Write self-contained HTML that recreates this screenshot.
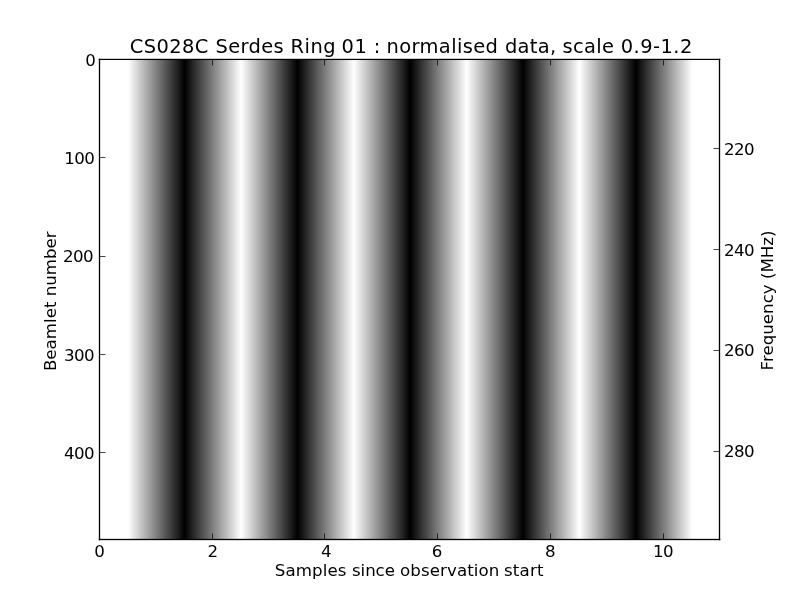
<!DOCTYPE html>
<html lang="en">
<head>
<meta charset="utf-8">
<title>CS028C Serdes Ring 01 : normalised data, scale 0.9-1.2</title>
<style>
html,body{margin:0;padding:0;background:#fff;}
body{width:800px;height:600px;overflow:hidden;}
svg{display:block;}
text{font-family:"DejaVu Sans","Liberation Sans",sans-serif;fill:#000;white-space:pre;}
.t{font-size:16.667px;}
.n{letter-spacing:-0.6px;}
.ttl{font-size:19.444px;}
.tk{fill:#000;opacity:0.72;}
</style>
</head>
<body>
<svg width="800" height="600" viewBox="0 0 800 600">
<rect x="0" y="0" width="800" height="600" fill="#fff"/>
<!-- image: 11 samples alternating white/black, bilinear interpolation, one rect per run of equal columns -->
<g shape-rendering="crispEdges">
<rect x="100" y="60" width="28" height="480" fill="#ffffff"/>
<rect x="128" y="60" width="1" height="480" fill="#fefefe"/>
<rect x="129" y="60" width="1" height="480" fill="#f9f9f9"/>
<rect x="130" y="60" width="1" height="480" fill="#f5f5f5"/>
<rect x="131" y="60" width="1" height="480" fill="#f0f0f0"/>
<rect x="132" y="60" width="1" height="480" fill="#ececec"/>
<rect x="133" y="60" width="1" height="480" fill="#e7e7e7"/>
<rect x="134" y="60" width="1" height="480" fill="#e3e3e3"/>
<rect x="135" y="60" width="1" height="480" fill="#dedede"/>
<rect x="136" y="60" width="1" height="480" fill="#dadada"/>
<rect x="137" y="60" width="1" height="480" fill="#d5d5d5"/>
<rect x="138" y="60" width="1" height="480" fill="#d0d0d0"/>
<rect x="139" y="60" width="1" height="480" fill="#cccccc"/>
<rect x="140" y="60" width="1" height="480" fill="#c7c7c7"/>
<rect x="141" y="60" width="1" height="480" fill="#c3c3c3"/>
<rect x="142" y="60" width="1" height="480" fill="#bebebe"/>
<rect x="143" y="60" width="1" height="480" fill="#bababa"/>
<rect x="144" y="60" width="1" height="480" fill="#b5b5b5"/>
<rect x="145" y="60" width="1" height="480" fill="#b1b1b1"/>
<rect x="146" y="60" width="1" height="480" fill="#acacac"/>
<rect x="147" y="60" width="1" height="480" fill="#a8a8a8"/>
<rect x="148" y="60" width="1" height="480" fill="#a3a3a3"/>
<rect x="149" y="60" width="1" height="480" fill="#9f9f9f"/>
<rect x="150" y="60" width="1" height="480" fill="#9a9a9a"/>
<rect x="151" y="60" width="1" height="480" fill="#969696"/>
<rect x="152" y="60" width="1" height="480" fill="#919191"/>
<rect x="153" y="60" width="1" height="480" fill="#8d8d8d"/>
<rect x="154" y="60" width="1" height="480" fill="#888888"/>
<rect x="155" y="60" width="1" height="480" fill="#848484"/>
<rect x="156" y="60" width="1" height="480" fill="#7f7f7f"/>
<rect x="157" y="60" width="1" height="480" fill="#7b7b7b"/>
<rect x="158" y="60" width="1" height="480" fill="#767676"/>
<rect x="159" y="60" width="1" height="480" fill="#727272"/>
<rect x="160" y="60" width="1" height="480" fill="#6d6d6d"/>
<rect x="161" y="60" width="1" height="480" fill="#686868"/>
<rect x="162" y="60" width="1" height="480" fill="#646464"/>
<rect x="163" y="60" width="1" height="480" fill="#5f5f5f"/>
<rect x="164" y="60" width="1" height="480" fill="#5b5b5b"/>
<rect x="165" y="60" width="1" height="480" fill="#565656"/>
<rect x="166" y="60" width="1" height="480" fill="#525252"/>
<rect x="167" y="60" width="1" height="480" fill="#4d4d4d"/>
<rect x="168" y="60" width="1" height="480" fill="#494949"/>
<rect x="169" y="60" width="1" height="480" fill="#444444"/>
<rect x="170" y="60" width="1" height="480" fill="#404040"/>
<rect x="171" y="60" width="1" height="480" fill="#3b3b3b"/>
<rect x="172" y="60" width="1" height="480" fill="#373737"/>
<rect x="173" y="60" width="1" height="480" fill="#323232"/>
<rect x="174" y="60" width="1" height="480" fill="#2e2e2e"/>
<rect x="175" y="60" width="1" height="480" fill="#292929"/>
<rect x="176" y="60" width="1" height="480" fill="#252525"/>
<rect x="177" y="60" width="1" height="480" fill="#202020"/>
<rect x="178" y="60" width="1" height="480" fill="#1c1c1c"/>
<rect x="179" y="60" width="1" height="480" fill="#171717"/>
<rect x="180" y="60" width="1" height="480" fill="#131313"/>
<rect x="181" y="60" width="1" height="480" fill="#0e0e0e"/>
<rect x="182" y="60" width="1" height="480" fill="#0a0a0a"/>
<rect x="183" y="60" width="1" height="480" fill="#050505"/>
<rect x="184" y="60" width="1" height="480" fill="#010101"/>
<rect x="185" y="60" width="1" height="480" fill="#040404"/>
<rect x="186" y="60" width="1" height="480" fill="#090909"/>
<rect x="187" y="60" width="1" height="480" fill="#0d0d0d"/>
<rect x="188" y="60" width="1" height="480" fill="#121212"/>
<rect x="189" y="60" width="1" height="480" fill="#161616"/>
<rect x="190" y="60" width="1" height="480" fill="#1b1b1b"/>
<rect x="191" y="60" width="1" height="480" fill="#1f1f1f"/>
<rect x="192" y="60" width="1" height="480" fill="#242424"/>
<rect x="193" y="60" width="1" height="480" fill="#282828"/>
<rect x="194" y="60" width="1" height="480" fill="#2d2d2d"/>
<rect x="195" y="60" width="1" height="480" fill="#313131"/>
<rect x="196" y="60" width="1" height="480" fill="#363636"/>
<rect x="197" y="60" width="1" height="480" fill="#3a3a3a"/>
<rect x="198" y="60" width="1" height="480" fill="#3f3f3f"/>
<rect x="199" y="60" width="1" height="480" fill="#434343"/>
<rect x="200" y="60" width="1" height="480" fill="#484848"/>
<rect x="201" y="60" width="1" height="480" fill="#4c4c4c"/>
<rect x="202" y="60" width="1" height="480" fill="#515151"/>
<rect x="203" y="60" width="1" height="480" fill="#555555"/>
<rect x="204" y="60" width="1" height="480" fill="#5a5a5a"/>
<rect x="205" y="60" width="1" height="480" fill="#5e5e5e"/>
<rect x="206" y="60" width="1" height="480" fill="#636363"/>
<rect x="207" y="60" width="1" height="480" fill="#676767"/>
<rect x="208" y="60" width="1" height="480" fill="#6c6c6c"/>
<rect x="209" y="60" width="1" height="480" fill="#707070"/>
<rect x="210" y="60" width="1" height="480" fill="#757575"/>
<rect x="211" y="60" width="1" height="480" fill="#7a7a7a"/>
<rect x="212" y="60" width="1" height="480" fill="#7e7e7e"/>
<rect x="213" y="60" width="1" height="480" fill="#838383"/>
<rect x="214" y="60" width="1" height="480" fill="#878787"/>
<rect x="215" y="60" width="1" height="480" fill="#8c8c8c"/>
<rect x="216" y="60" width="1" height="480" fill="#909090"/>
<rect x="217" y="60" width="1" height="480" fill="#959595"/>
<rect x="218" y="60" width="1" height="480" fill="#999999"/>
<rect x="219" y="60" width="1" height="480" fill="#9e9e9e"/>
<rect x="220" y="60" width="1" height="480" fill="#a2a2a2"/>
<rect x="221" y="60" width="1" height="480" fill="#a7a7a7"/>
<rect x="222" y="60" width="1" height="480" fill="#ababab"/>
<rect x="223" y="60" width="1" height="480" fill="#b0b0b0"/>
<rect x="224" y="60" width="1" height="480" fill="#b4b4b4"/>
<rect x="225" y="60" width="1" height="480" fill="#b9b9b9"/>
<rect x="226" y="60" width="1" height="480" fill="#bdbdbd"/>
<rect x="227" y="60" width="1" height="480" fill="#c2c2c2"/>
<rect x="228" y="60" width="1" height="480" fill="#c6c6c6"/>
<rect x="229" y="60" width="1" height="480" fill="#cbcbcb"/>
<rect x="230" y="60" width="1" height="480" fill="#cfcfcf"/>
<rect x="231" y="60" width="1" height="480" fill="#d4d4d4"/>
<rect x="232" y="60" width="1" height="480" fill="#d8d8d8"/>
<rect x="233" y="60" width="1" height="480" fill="#dddddd"/>
<rect x="234" y="60" width="1" height="480" fill="#e2e2e2"/>
<rect x="235" y="60" width="1" height="480" fill="#e6e6e6"/>
<rect x="236" y="60" width="1" height="480" fill="#ebebeb"/>
<rect x="237" y="60" width="1" height="480" fill="#efefef"/>
<rect x="238" y="60" width="1" height="480" fill="#f4f4f4"/>
<rect x="239" y="60" width="1" height="480" fill="#f8f8f8"/>
<rect x="240" y="60" width="2" height="480" fill="#fdfdfd"/>
<rect x="242" y="60" width="1" height="480" fill="#f8f8f8"/>
<rect x="243" y="60" width="1" height="480" fill="#f4f4f4"/>
<rect x="244" y="60" width="1" height="480" fill="#efefef"/>
<rect x="245" y="60" width="1" height="480" fill="#ebebeb"/>
<rect x="246" y="60" width="1" height="480" fill="#e6e6e6"/>
<rect x="247" y="60" width="1" height="480" fill="#e2e2e2"/>
<rect x="248" y="60" width="1" height="480" fill="#dddddd"/>
<rect x="249" y="60" width="1" height="480" fill="#d9d9d9"/>
<rect x="250" y="60" width="1" height="480" fill="#d4d4d4"/>
<rect x="251" y="60" width="1" height="480" fill="#d0d0d0"/>
<rect x="252" y="60" width="1" height="480" fill="#cbcbcb"/>
<rect x="253" y="60" width="1" height="480" fill="#c7c7c7"/>
<rect x="254" y="60" width="1" height="480" fill="#c2c2c2"/>
<rect x="255" y="60" width="1" height="480" fill="#bebebe"/>
<rect x="256" y="60" width="1" height="480" fill="#b9b9b9"/>
<rect x="257" y="60" width="1" height="480" fill="#b5b5b5"/>
<rect x="258" y="60" width="1" height="480" fill="#b0b0b0"/>
<rect x="259" y="60" width="1" height="480" fill="#ababab"/>
<rect x="260" y="60" width="1" height="480" fill="#a7a7a7"/>
<rect x="261" y="60" width="1" height="480" fill="#a2a2a2"/>
<rect x="262" y="60" width="1" height="480" fill="#9e9e9e"/>
<rect x="263" y="60" width="1" height="480" fill="#999999"/>
<rect x="264" y="60" width="1" height="480" fill="#959595"/>
<rect x="265" y="60" width="1" height="480" fill="#909090"/>
<rect x="266" y="60" width="1" height="480" fill="#8c8c8c"/>
<rect x="267" y="60" width="1" height="480" fill="#878787"/>
<rect x="268" y="60" width="1" height="480" fill="#838383"/>
<rect x="269" y="60" width="1" height="480" fill="#7e7e7e"/>
<rect x="270" y="60" width="1" height="480" fill="#7a7a7a"/>
<rect x="271" y="60" width="1" height="480" fill="#757575"/>
<rect x="272" y="60" width="1" height="480" fill="#717171"/>
<rect x="273" y="60" width="1" height="480" fill="#6c6c6c"/>
<rect x="274" y="60" width="1" height="480" fill="#686868"/>
<rect x="275" y="60" width="1" height="480" fill="#636363"/>
<rect x="276" y="60" width="1" height="480" fill="#5f5f5f"/>
<rect x="277" y="60" width="1" height="480" fill="#5a5a5a"/>
<rect x="278" y="60" width="1" height="480" fill="#565656"/>
<rect x="279" y="60" width="1" height="480" fill="#515151"/>
<rect x="280" y="60" width="1" height="480" fill="#4d4d4d"/>
<rect x="281" y="60" width="1" height="480" fill="#484848"/>
<rect x="282" y="60" width="1" height="480" fill="#434343"/>
<rect x="283" y="60" width="1" height="480" fill="#3f3f3f"/>
<rect x="284" y="60" width="1" height="480" fill="#3a3a3a"/>
<rect x="285" y="60" width="1" height="480" fill="#363636"/>
<rect x="286" y="60" width="1" height="480" fill="#313131"/>
<rect x="287" y="60" width="1" height="480" fill="#2d2d2d"/>
<rect x="288" y="60" width="1" height="480" fill="#282828"/>
<rect x="289" y="60" width="1" height="480" fill="#242424"/>
<rect x="290" y="60" width="1" height="480" fill="#1f1f1f"/>
<rect x="291" y="60" width="1" height="480" fill="#1b1b1b"/>
<rect x="292" y="60" width="1" height="480" fill="#161616"/>
<rect x="293" y="60" width="1" height="480" fill="#121212"/>
<rect x="294" y="60" width="1" height="480" fill="#0d0d0d"/>
<rect x="295" y="60" width="1" height="480" fill="#090909"/>
<rect x="296" y="60" width="1" height="480" fill="#040404"/>
<rect x="297" y="60" width="1" height="480" fill="#000000"/>
<rect x="298" y="60" width="1" height="480" fill="#050505"/>
<rect x="299" y="60" width="1" height="480" fill="#090909"/>
<rect x="300" y="60" width="1" height="480" fill="#0e0e0e"/>
<rect x="301" y="60" width="1" height="480" fill="#121212"/>
<rect x="302" y="60" width="1" height="480" fill="#171717"/>
<rect x="303" y="60" width="1" height="480" fill="#1b1b1b"/>
<rect x="304" y="60" width="1" height="480" fill="#202020"/>
<rect x="305" y="60" width="1" height="480" fill="#242424"/>
<rect x="306" y="60" width="1" height="480" fill="#292929"/>
<rect x="307" y="60" width="1" height="480" fill="#2e2e2e"/>
<rect x="308" y="60" width="1" height="480" fill="#323232"/>
<rect x="309" y="60" width="1" height="480" fill="#373737"/>
<rect x="310" y="60" width="1" height="480" fill="#3b3b3b"/>
<rect x="311" y="60" width="1" height="480" fill="#404040"/>
<rect x="312" y="60" width="1" height="480" fill="#444444"/>
<rect x="313" y="60" width="1" height="480" fill="#494949"/>
<rect x="314" y="60" width="1" height="480" fill="#4d4d4d"/>
<rect x="315" y="60" width="1" height="480" fill="#525252"/>
<rect x="316" y="60" width="1" height="480" fill="#565656"/>
<rect x="317" y="60" width="1" height="480" fill="#5b5b5b"/>
<rect x="318" y="60" width="1" height="480" fill="#5f5f5f"/>
<rect x="319" y="60" width="1" height="480" fill="#646464"/>
<rect x="320" y="60" width="1" height="480" fill="#686868"/>
<rect x="321" y="60" width="1" height="480" fill="#6d6d6d"/>
<rect x="322" y="60" width="1" height="480" fill="#717171"/>
<rect x="323" y="60" width="1" height="480" fill="#767676"/>
<rect x="324" y="60" width="1" height="480" fill="#7a7a7a"/>
<rect x="325" y="60" width="1" height="480" fill="#7f7f7f"/>
<rect x="326" y="60" width="1" height="480" fill="#838383"/>
<rect x="327" y="60" width="1" height="480" fill="#888888"/>
<rect x="328" y="60" width="1" height="480" fill="#8c8c8c"/>
<rect x="329" y="60" width="1" height="480" fill="#919191"/>
<rect x="330" y="60" width="1" height="480" fill="#959595"/>
<rect x="331" y="60" width="1" height="480" fill="#9a9a9a"/>
<rect x="332" y="60" width="1" height="480" fill="#9f9f9f"/>
<rect x="333" y="60" width="1" height="480" fill="#a3a3a3"/>
<rect x="334" y="60" width="1" height="480" fill="#a8a8a8"/>
<rect x="335" y="60" width="1" height="480" fill="#acacac"/>
<rect x="336" y="60" width="1" height="480" fill="#b1b1b1"/>
<rect x="337" y="60" width="1" height="480" fill="#b5b5b5"/>
<rect x="338" y="60" width="1" height="480" fill="#bababa"/>
<rect x="339" y="60" width="1" height="480" fill="#bebebe"/>
<rect x="340" y="60" width="1" height="480" fill="#c3c3c3"/>
<rect x="341" y="60" width="1" height="480" fill="#c7c7c7"/>
<rect x="342" y="60" width="1" height="480" fill="#cccccc"/>
<rect x="343" y="60" width="1" height="480" fill="#d0d0d0"/>
<rect x="344" y="60" width="1" height="480" fill="#d5d5d5"/>
<rect x="345" y="60" width="1" height="480" fill="#d9d9d9"/>
<rect x="346" y="60" width="1" height="480" fill="#dedede"/>
<rect x="347" y="60" width="1" height="480" fill="#e2e2e2"/>
<rect x="348" y="60" width="1" height="480" fill="#e7e7e7"/>
<rect x="349" y="60" width="1" height="480" fill="#ebebeb"/>
<rect x="350" y="60" width="1" height="480" fill="#f0f0f0"/>
<rect x="351" y="60" width="1" height="480" fill="#f4f4f4"/>
<rect x="352" y="60" width="1" height="480" fill="#f9f9f9"/>
<rect x="353" y="60" width="1" height="480" fill="#fdfdfd"/>
<rect x="354" y="60" width="1" height="480" fill="#fcfcfc"/>
<rect x="355" y="60" width="1" height="480" fill="#f8f8f8"/>
<rect x="356" y="60" width="1" height="480" fill="#f3f3f3"/>
<rect x="357" y="60" width="1" height="480" fill="#eeeeee"/>
<rect x="358" y="60" width="1" height="480" fill="#eaeaea"/>
<rect x="359" y="60" width="1" height="480" fill="#e5e5e5"/>
<rect x="360" y="60" width="1" height="480" fill="#e1e1e1"/>
<rect x="361" y="60" width="1" height="480" fill="#dcdcdc"/>
<rect x="362" y="60" width="1" height="480" fill="#d8d8d8"/>
<rect x="363" y="60" width="1" height="480" fill="#d3d3d3"/>
<rect x="364" y="60" width="1" height="480" fill="#cfcfcf"/>
<rect x="365" y="60" width="1" height="480" fill="#cacaca"/>
<rect x="366" y="60" width="1" height="480" fill="#c6c6c6"/>
<rect x="367" y="60" width="1" height="480" fill="#c1c1c1"/>
<rect x="368" y="60" width="1" height="480" fill="#bdbdbd"/>
<rect x="369" y="60" width="1" height="480" fill="#b8b8b8"/>
<rect x="370" y="60" width="1" height="480" fill="#b4b4b4"/>
<rect x="371" y="60" width="1" height="480" fill="#afafaf"/>
<rect x="372" y="60" width="1" height="480" fill="#ababab"/>
<rect x="373" y="60" width="1" height="480" fill="#a6a6a6"/>
<rect x="374" y="60" width="1" height="480" fill="#a2a2a2"/>
<rect x="375" y="60" width="1" height="480" fill="#9d9d9d"/>
<rect x="376" y="60" width="1" height="480" fill="#999999"/>
<rect x="377" y="60" width="1" height="480" fill="#949494"/>
<rect x="378" y="60" width="1" height="480" fill="#909090"/>
<rect x="379" y="60" width="1" height="480" fill="#8b8b8b"/>
<rect x="380" y="60" width="1" height="480" fill="#868686"/>
<rect x="381" y="60" width="1" height="480" fill="#828282"/>
<rect x="382" y="60" width="1" height="480" fill="#7d7d7d"/>
<rect x="383" y="60" width="1" height="480" fill="#797979"/>
<rect x="384" y="60" width="1" height="480" fill="#747474"/>
<rect x="385" y="60" width="1" height="480" fill="#707070"/>
<rect x="386" y="60" width="1" height="480" fill="#6b6b6b"/>
<rect x="387" y="60" width="1" height="480" fill="#676767"/>
<rect x="388" y="60" width="1" height="480" fill="#626262"/>
<rect x="389" y="60" width="1" height="480" fill="#5e5e5e"/>
<rect x="390" y="60" width="1" height="480" fill="#595959"/>
<rect x="391" y="60" width="1" height="480" fill="#555555"/>
<rect x="392" y="60" width="1" height="480" fill="#505050"/>
<rect x="393" y="60" width="1" height="480" fill="#4c4c4c"/>
<rect x="394" y="60" width="1" height="480" fill="#474747"/>
<rect x="395" y="60" width="1" height="480" fill="#434343"/>
<rect x="396" y="60" width="1" height="480" fill="#3e3e3e"/>
<rect x="397" y="60" width="1" height="480" fill="#3a3a3a"/>
<rect x="398" y="60" width="1" height="480" fill="#353535"/>
<rect x="399" y="60" width="1" height="480" fill="#313131"/>
<rect x="400" y="60" width="1" height="480" fill="#2c2c2c"/>
<rect x="401" y="60" width="1" height="480" fill="#282828"/>
<rect x="402" y="60" width="1" height="480" fill="#232323"/>
<rect x="403" y="60" width="1" height="480" fill="#1f1f1f"/>
<rect x="404" y="60" width="1" height="480" fill="#1a1a1a"/>
<rect x="405" y="60" width="1" height="480" fill="#151515"/>
<rect x="406" y="60" width="1" height="480" fill="#111111"/>
<rect x="407" y="60" width="1" height="480" fill="#0c0c0c"/>
<rect x="408" y="60" width="1" height="480" fill="#080808"/>
<rect x="409" y="60" width="1" height="480" fill="#030303"/>
<rect x="410" y="60" width="1" height="480" fill="#010101"/>
<rect x="411" y="60" width="1" height="480" fill="#060606"/>
<rect x="412" y="60" width="1" height="480" fill="#0a0a0a"/>
<rect x="413" y="60" width="1" height="480" fill="#0f0f0f"/>
<rect x="414" y="60" width="1" height="480" fill="#131313"/>
<rect x="415" y="60" width="1" height="480" fill="#181818"/>
<rect x="416" y="60" width="1" height="480" fill="#1c1c1c"/>
<rect x="417" y="60" width="1" height="480" fill="#212121"/>
<rect x="418" y="60" width="1" height="480" fill="#252525"/>
<rect x="419" y="60" width="1" height="480" fill="#2a2a2a"/>
<rect x="420" y="60" width="1" height="480" fill="#2e2e2e"/>
<rect x="421" y="60" width="1" height="480" fill="#333333"/>
<rect x="422" y="60" width="1" height="480" fill="#373737"/>
<rect x="423" y="60" width="1" height="480" fill="#3c3c3c"/>
<rect x="424" y="60" width="1" height="480" fill="#404040"/>
<rect x="425" y="60" width="1" height="480" fill="#454545"/>
<rect x="426" y="60" width="1" height="480" fill="#494949"/>
<rect x="427" y="60" width="1" height="480" fill="#4e4e4e"/>
<rect x="428" y="60" width="1" height="480" fill="#535353"/>
<rect x="429" y="60" width="1" height="480" fill="#575757"/>
<rect x="430" y="60" width="1" height="480" fill="#5c5c5c"/>
<rect x="431" y="60" width="1" height="480" fill="#606060"/>
<rect x="432" y="60" width="1" height="480" fill="#656565"/>
<rect x="433" y="60" width="1" height="480" fill="#696969"/>
<rect x="434" y="60" width="1" height="480" fill="#6e6e6e"/>
<rect x="435" y="60" width="1" height="480" fill="#727272"/>
<rect x="436" y="60" width="1" height="480" fill="#777777"/>
<rect x="437" y="60" width="1" height="480" fill="#7b7b7b"/>
<rect x="438" y="60" width="1" height="480" fill="#808080"/>
<rect x="439" y="60" width="1" height="480" fill="#848484"/>
<rect x="440" y="60" width="1" height="480" fill="#898989"/>
<rect x="441" y="60" width="1" height="480" fill="#8d8d8d"/>
<rect x="442" y="60" width="1" height="480" fill="#929292"/>
<rect x="443" y="60" width="1" height="480" fill="#969696"/>
<rect x="444" y="60" width="1" height="480" fill="#9b9b9b"/>
<rect x="445" y="60" width="1" height="480" fill="#9f9f9f"/>
<rect x="446" y="60" width="1" height="480" fill="#a4a4a4"/>
<rect x="447" y="60" width="1" height="480" fill="#a8a8a8"/>
<rect x="448" y="60" width="1" height="480" fill="#adadad"/>
<rect x="449" y="60" width="1" height="480" fill="#b1b1b1"/>
<rect x="450" y="60" width="1" height="480" fill="#b6b6b6"/>
<rect x="451" y="60" width="1" height="480" fill="#bababa"/>
<rect x="452" y="60" width="1" height="480" fill="#bfbfbf"/>
<rect x="453" y="60" width="1" height="480" fill="#c4c4c4"/>
<rect x="454" y="60" width="1" height="480" fill="#c8c8c8"/>
<rect x="455" y="60" width="1" height="480" fill="#cdcdcd"/>
<rect x="456" y="60" width="1" height="480" fill="#d1d1d1"/>
<rect x="457" y="60" width="1" height="480" fill="#d6d6d6"/>
<rect x="458" y="60" width="1" height="480" fill="#dadada"/>
<rect x="459" y="60" width="1" height="480" fill="#dfdfdf"/>
<rect x="460" y="60" width="1" height="480" fill="#e3e3e3"/>
<rect x="461" y="60" width="1" height="480" fill="#e8e8e8"/>
<rect x="462" y="60" width="1" height="480" fill="#ececec"/>
<rect x="463" y="60" width="1" height="480" fill="#f1f1f1"/>
<rect x="464" y="60" width="1" height="480" fill="#f5f5f5"/>
<rect x="465" y="60" width="1" height="480" fill="#fafafa"/>
<rect x="466" y="60" width="1" height="480" fill="#fefefe"/>
<rect x="467" y="60" width="1" height="480" fill="#fbfbfb"/>
<rect x="468" y="60" width="1" height="480" fill="#f7f7f7"/>
<rect x="469" y="60" width="1" height="480" fill="#f2f2f2"/>
<rect x="470" y="60" width="1" height="480" fill="#eeeeee"/>
<rect x="471" y="60" width="1" height="480" fill="#e9e9e9"/>
<rect x="472" y="60" width="1" height="480" fill="#e5e5e5"/>
<rect x="473" y="60" width="1" height="480" fill="#e0e0e0"/>
<rect x="474" y="60" width="1" height="480" fill="#dcdcdc"/>
<rect x="475" y="60" width="1" height="480" fill="#d7d7d7"/>
<rect x="476" y="60" width="1" height="480" fill="#d3d3d3"/>
<rect x="477" y="60" width="1" height="480" fill="#cecece"/>
<rect x="478" y="60" width="1" height="480" fill="#c9c9c9"/>
<rect x="479" y="60" width="1" height="480" fill="#c5c5c5"/>
<rect x="480" y="60" width="1" height="480" fill="#c0c0c0"/>
<rect x="481" y="60" width="1" height="480" fill="#bcbcbc"/>
<rect x="482" y="60" width="1" height="480" fill="#b7b7b7"/>
<rect x="483" y="60" width="1" height="480" fill="#b3b3b3"/>
<rect x="484" y="60" width="1" height="480" fill="#aeaeae"/>
<rect x="485" y="60" width="1" height="480" fill="#aaaaaa"/>
<rect x="486" y="60" width="1" height="480" fill="#a5a5a5"/>
<rect x="487" y="60" width="1" height="480" fill="#a1a1a1"/>
<rect x="488" y="60" width="1" height="480" fill="#9c9c9c"/>
<rect x="489" y="60" width="1" height="480" fill="#989898"/>
<rect x="490" y="60" width="1" height="480" fill="#939393"/>
<rect x="491" y="60" width="1" height="480" fill="#8f8f8f"/>
<rect x="492" y="60" width="1" height="480" fill="#8a8a8a"/>
<rect x="493" y="60" width="1" height="480" fill="#868686"/>
<rect x="494" y="60" width="1" height="480" fill="#818181"/>
<rect x="495" y="60" width="1" height="480" fill="#7d7d7d"/>
<rect x="496" y="60" width="1" height="480" fill="#787878"/>
<rect x="497" y="60" width="1" height="480" fill="#747474"/>
<rect x="498" y="60" width="1" height="480" fill="#6f6f6f"/>
<rect x="499" y="60" width="1" height="480" fill="#6b6b6b"/>
<rect x="500" y="60" width="1" height="480" fill="#666666"/>
<rect x="501" y="60" width="1" height="480" fill="#616161"/>
<rect x="502" y="60" width="1" height="480" fill="#5d5d5d"/>
<rect x="503" y="60" width="1" height="480" fill="#585858"/>
<rect x="504" y="60" width="1" height="480" fill="#545454"/>
<rect x="505" y="60" width="1" height="480" fill="#4f4f4f"/>
<rect x="506" y="60" width="1" height="480" fill="#4b4b4b"/>
<rect x="507" y="60" width="1" height="480" fill="#464646"/>
<rect x="508" y="60" width="1" height="480" fill="#424242"/>
<rect x="509" y="60" width="1" height="480" fill="#3d3d3d"/>
<rect x="510" y="60" width="1" height="480" fill="#393939"/>
<rect x="511" y="60" width="1" height="480" fill="#343434"/>
<rect x="512" y="60" width="1" height="480" fill="#303030"/>
<rect x="513" y="60" width="1" height="480" fill="#2b2b2b"/>
<rect x="514" y="60" width="1" height="480" fill="#272727"/>
<rect x="515" y="60" width="1" height="480" fill="#222222"/>
<rect x="516" y="60" width="1" height="480" fill="#1e1e1e"/>
<rect x="517" y="60" width="1" height="480" fill="#191919"/>
<rect x="518" y="60" width="1" height="480" fill="#151515"/>
<rect x="519" y="60" width="1" height="480" fill="#101010"/>
<rect x="520" y="60" width="1" height="480" fill="#0c0c0c"/>
<rect x="521" y="60" width="1" height="480" fill="#070707"/>
<rect x="522" y="60" width="1" height="480" fill="#030303"/>
<rect x="523" y="60" width="1" height="480" fill="#020202"/>
<rect x="524" y="60" width="1" height="480" fill="#060606"/>
<rect x="525" y="60" width="1" height="480" fill="#0b0b0b"/>
<rect x="526" y="60" width="1" height="480" fill="#101010"/>
<rect x="527" y="60" width="1" height="480" fill="#141414"/>
<rect x="528" y="60" width="1" height="480" fill="#191919"/>
<rect x="529" y="60" width="1" height="480" fill="#1d1d1d"/>
<rect x="530" y="60" width="1" height="480" fill="#222222"/>
<rect x="531" y="60" width="1" height="480" fill="#262626"/>
<rect x="532" y="60" width="1" height="480" fill="#2b2b2b"/>
<rect x="533" y="60" width="1" height="480" fill="#2f2f2f"/>
<rect x="534" y="60" width="1" height="480" fill="#343434"/>
<rect x="535" y="60" width="1" height="480" fill="#383838"/>
<rect x="536" y="60" width="1" height="480" fill="#3d3d3d"/>
<rect x="537" y="60" width="1" height="480" fill="#414141"/>
<rect x="538" y="60" width="1" height="480" fill="#464646"/>
<rect x="539" y="60" width="1" height="480" fill="#4a4a4a"/>
<rect x="540" y="60" width="1" height="480" fill="#4f4f4f"/>
<rect x="541" y="60" width="1" height="480" fill="#535353"/>
<rect x="542" y="60" width="1" height="480" fill="#585858"/>
<rect x="543" y="60" width="1" height="480" fill="#5c5c5c"/>
<rect x="544" y="60" width="1" height="480" fill="#616161"/>
<rect x="545" y="60" width="1" height="480" fill="#656565"/>
<rect x="546" y="60" width="1" height="480" fill="#6a6a6a"/>
<rect x="547" y="60" width="1" height="480" fill="#6e6e6e"/>
<rect x="548" y="60" width="1" height="480" fill="#737373"/>
<rect x="549" y="60" width="1" height="480" fill="#777777"/>
<rect x="550" y="60" width="1" height="480" fill="#7c7c7c"/>
<rect x="551" y="60" width="1" height="480" fill="#818181"/>
<rect x="552" y="60" width="1" height="480" fill="#858585"/>
<rect x="553" y="60" width="1" height="480" fill="#8a8a8a"/>
<rect x="554" y="60" width="1" height="480" fill="#8e8e8e"/>
<rect x="555" y="60" width="1" height="480" fill="#939393"/>
<rect x="556" y="60" width="1" height="480" fill="#979797"/>
<rect x="557" y="60" width="1" height="480" fill="#9c9c9c"/>
<rect x="558" y="60" width="1" height="480" fill="#a0a0a0"/>
<rect x="559" y="60" width="1" height="480" fill="#a5a5a5"/>
<rect x="560" y="60" width="1" height="480" fill="#a9a9a9"/>
<rect x="561" y="60" width="1" height="480" fill="#aeaeae"/>
<rect x="562" y="60" width="1" height="480" fill="#b2b2b2"/>
<rect x="563" y="60" width="1" height="480" fill="#b7b7b7"/>
<rect x="564" y="60" width="1" height="480" fill="#bbbbbb"/>
<rect x="565" y="60" width="1" height="480" fill="#c0c0c0"/>
<rect x="566" y="60" width="1" height="480" fill="#c4c4c4"/>
<rect x="567" y="60" width="1" height="480" fill="#c9c9c9"/>
<rect x="568" y="60" width="1" height="480" fill="#cdcdcd"/>
<rect x="569" y="60" width="1" height="480" fill="#d2d2d2"/>
<rect x="570" y="60" width="1" height="480" fill="#d6d6d6"/>
<rect x="571" y="60" width="1" height="480" fill="#dbdbdb"/>
<rect x="572" y="60" width="1" height="480" fill="#dfdfdf"/>
<rect x="573" y="60" width="1" height="480" fill="#e4e4e4"/>
<rect x="574" y="60" width="1" height="480" fill="#e9e9e9"/>
<rect x="575" y="60" width="1" height="480" fill="#ededed"/>
<rect x="576" y="60" width="1" height="480" fill="#f2f2f2"/>
<rect x="577" y="60" width="1" height="480" fill="#f6f6f6"/>
<rect x="578" y="60" width="1" height="480" fill="#fbfbfb"/>
<rect x="579" y="60" width="1" height="480" fill="#ffffff"/>
<rect x="580" y="60" width="1" height="480" fill="#fafafa"/>
<rect x="581" y="60" width="1" height="480" fill="#f6f6f6"/>
<rect x="582" y="60" width="1" height="480" fill="#f1f1f1"/>
<rect x="583" y="60" width="1" height="480" fill="#ededed"/>
<rect x="584" y="60" width="1" height="480" fill="#e8e8e8"/>
<rect x="585" y="60" width="1" height="480" fill="#e4e4e4"/>
<rect x="586" y="60" width="1" height="480" fill="#dfdfdf"/>
<rect x="587" y="60" width="1" height="480" fill="#dbdbdb"/>
<rect x="588" y="60" width="1" height="480" fill="#d6d6d6"/>
<rect x="589" y="60" width="1" height="480" fill="#d2d2d2"/>
<rect x="590" y="60" width="1" height="480" fill="#cdcdcd"/>
<rect x="591" y="60" width="1" height="480" fill="#c9c9c9"/>
<rect x="592" y="60" width="1" height="480" fill="#c4c4c4"/>
<rect x="593" y="60" width="1" height="480" fill="#c0c0c0"/>
<rect x="594" y="60" width="1" height="480" fill="#bbbbbb"/>
<rect x="595" y="60" width="1" height="480" fill="#b7b7b7"/>
<rect x="596" y="60" width="1" height="480" fill="#b2b2b2"/>
<rect x="597" y="60" width="1" height="480" fill="#aeaeae"/>
<rect x="598" y="60" width="1" height="480" fill="#a9a9a9"/>
<rect x="599" y="60" width="1" height="480" fill="#a4a4a4"/>
<rect x="600" y="60" width="1" height="480" fill="#a0a0a0"/>
<rect x="601" y="60" width="1" height="480" fill="#9b9b9b"/>
<rect x="602" y="60" width="1" height="480" fill="#979797"/>
<rect x="603" y="60" width="1" height="480" fill="#929292"/>
<rect x="604" y="60" width="1" height="480" fill="#8e8e8e"/>
<rect x="605" y="60" width="1" height="480" fill="#898989"/>
<rect x="606" y="60" width="1" height="480" fill="#858585"/>
<rect x="607" y="60" width="1" height="480" fill="#808080"/>
<rect x="608" y="60" width="1" height="480" fill="#7c7c7c"/>
<rect x="609" y="60" width="1" height="480" fill="#777777"/>
<rect x="610" y="60" width="1" height="480" fill="#737373"/>
<rect x="611" y="60" width="1" height="480" fill="#6e6e6e"/>
<rect x="612" y="60" width="1" height="480" fill="#6a6a6a"/>
<rect x="613" y="60" width="1" height="480" fill="#656565"/>
<rect x="614" y="60" width="1" height="480" fill="#616161"/>
<rect x="615" y="60" width="1" height="480" fill="#5c5c5c"/>
<rect x="616" y="60" width="1" height="480" fill="#585858"/>
<rect x="617" y="60" width="1" height="480" fill="#535353"/>
<rect x="618" y="60" width="1" height="480" fill="#4f4f4f"/>
<rect x="619" y="60" width="1" height="480" fill="#4a4a4a"/>
<rect x="620" y="60" width="1" height="480" fill="#464646"/>
<rect x="621" y="60" width="1" height="480" fill="#414141"/>
<rect x="622" y="60" width="1" height="480" fill="#3d3d3d"/>
<rect x="623" y="60" width="1" height="480" fill="#383838"/>
<rect x="624" y="60" width="1" height="480" fill="#333333"/>
<rect x="625" y="60" width="1" height="480" fill="#2f2f2f"/>
<rect x="626" y="60" width="1" height="480" fill="#2a2a2a"/>
<rect x="627" y="60" width="1" height="480" fill="#262626"/>
<rect x="628" y="60" width="1" height="480" fill="#212121"/>
<rect x="629" y="60" width="1" height="480" fill="#1d1d1d"/>
<rect x="630" y="60" width="1" height="480" fill="#181818"/>
<rect x="631" y="60" width="1" height="480" fill="#141414"/>
<rect x="632" y="60" width="1" height="480" fill="#0f0f0f"/>
<rect x="633" y="60" width="1" height="480" fill="#0b0b0b"/>
<rect x="634" y="60" width="1" height="480" fill="#060606"/>
<rect x="635" y="60" width="1" height="480" fill="#020202"/>
<rect x="636" y="60" width="1" height="480" fill="#030303"/>
<rect x="637" y="60" width="1" height="480" fill="#070707"/>
<rect x="638" y="60" width="1" height="480" fill="#0c0c0c"/>
<rect x="639" y="60" width="1" height="480" fill="#101010"/>
<rect x="640" y="60" width="1" height="480" fill="#151515"/>
<rect x="641" y="60" width="1" height="480" fill="#191919"/>
<rect x="642" y="60" width="1" height="480" fill="#1e1e1e"/>
<rect x="643" y="60" width="1" height="480" fill="#222222"/>
<rect x="644" y="60" width="1" height="480" fill="#272727"/>
<rect x="645" y="60" width="1" height="480" fill="#2b2b2b"/>
<rect x="646" y="60" width="1" height="480" fill="#303030"/>
<rect x="647" y="60" width="1" height="480" fill="#353535"/>
<rect x="648" y="60" width="1" height="480" fill="#393939"/>
<rect x="649" y="60" width="1" height="480" fill="#3e3e3e"/>
<rect x="650" y="60" width="1" height="480" fill="#424242"/>
<rect x="651" y="60" width="1" height="480" fill="#474747"/>
<rect x="652" y="60" width="1" height="480" fill="#4b4b4b"/>
<rect x="653" y="60" width="1" height="480" fill="#505050"/>
<rect x="654" y="60" width="1" height="480" fill="#545454"/>
<rect x="655" y="60" width="1" height="480" fill="#595959"/>
<rect x="656" y="60" width="1" height="480" fill="#5d5d5d"/>
<rect x="657" y="60" width="1" height="480" fill="#626262"/>
<rect x="658" y="60" width="1" height="480" fill="#666666"/>
<rect x="659" y="60" width="1" height="480" fill="#6b6b6b"/>
<rect x="660" y="60" width="1" height="480" fill="#6f6f6f"/>
<rect x="661" y="60" width="1" height="480" fill="#747474"/>
<rect x="662" y="60" width="1" height="480" fill="#787878"/>
<rect x="663" y="60" width="1" height="480" fill="#7d7d7d"/>
<rect x="664" y="60" width="1" height="480" fill="#818181"/>
<rect x="665" y="60" width="1" height="480" fill="#868686"/>
<rect x="666" y="60" width="1" height="480" fill="#8a8a8a"/>
<rect x="667" y="60" width="1" height="480" fill="#8f8f8f"/>
<rect x="668" y="60" width="1" height="480" fill="#939393"/>
<rect x="669" y="60" width="1" height="480" fill="#989898"/>
<rect x="670" y="60" width="1" height="480" fill="#9c9c9c"/>
<rect x="671" y="60" width="1" height="480" fill="#a1a1a1"/>
<rect x="672" y="60" width="1" height="480" fill="#a6a6a6"/>
<rect x="673" y="60" width="1" height="480" fill="#aaaaaa"/>
<rect x="674" y="60" width="1" height="480" fill="#afafaf"/>
<rect x="675" y="60" width="1" height="480" fill="#b3b3b3"/>
<rect x="676" y="60" width="1" height="480" fill="#b8b8b8"/>
<rect x="677" y="60" width="1" height="480" fill="#bcbcbc"/>
<rect x="678" y="60" width="1" height="480" fill="#c1c1c1"/>
<rect x="679" y="60" width="1" height="480" fill="#c5c5c5"/>
<rect x="680" y="60" width="1" height="480" fill="#cacaca"/>
<rect x="681" y="60" width="1" height="480" fill="#cecece"/>
<rect x="682" y="60" width="1" height="480" fill="#d3d3d3"/>
<rect x="683" y="60" width="1" height="480" fill="#d7d7d7"/>
<rect x="684" y="60" width="1" height="480" fill="#dcdcdc"/>
<rect x="685" y="60" width="1" height="480" fill="#e0e0e0"/>
<rect x="686" y="60" width="1" height="480" fill="#e5e5e5"/>
<rect x="687" y="60" width="1" height="480" fill="#e9e9e9"/>
<rect x="688" y="60" width="1" height="480" fill="#eeeeee"/>
<rect x="689" y="60" width="1" height="480" fill="#f2f2f2"/>
<rect x="690" y="60" width="1" height="480" fill="#f7f7f7"/>
<rect x="691" y="60" width="1" height="480" fill="#fbfbfb"/>
<rect x="692" y="60" width="28" height="480" fill="#ffffff"/>
</g>
<!-- tick marks -->
<g class="tk">
<rect x="212" y="60" width="1" height="5.5"/>
<rect x="212" y="533.5" width="1" height="5.5"/>
<rect x="324" y="60" width="1" height="5.5"/>
<rect x="324" y="533.5" width="1" height="5.5"/>
<rect x="437" y="60" width="1" height="5.5"/>
<rect x="437" y="533.5" width="1" height="5.5"/>
<rect x="550" y="60" width="1" height="5.5"/>
<rect x="550" y="533.5" width="1" height="5.5"/>
<rect x="663" y="60" width="1" height="5.5"/>
<rect x="663" y="533.5" width="1" height="5.5"/>
<rect x="100" y="157" width="5.5" height="1"/>
<rect x="100" y="256" width="5.5" height="1"/>
<rect x="100" y="354" width="5.5" height="1"/>
<rect x="100" y="452" width="5.5" height="1"/>
<rect x="713.5" y="148" width="5.5" height="1"/>
<rect x="713.5" y="249" width="5.5" height="1"/>
<rect x="713.5" y="350" width="5.5" height="1"/>
<rect x="713.5" y="451" width="5.5" height="1"/>
</g>
<!-- axes frame -->
<g fill="#000">
<rect x="98.7" y="58.8" width="621.6" height="1.22"/>
<rect x="98.7" y="538.84" width="621.6" height="1.32"/>
<rect x="98.84" y="58.7" width="1.32" height="481.6"/>
<rect x="718.84" y="58.7" width="1.32" height="481.6"/>
</g>
<!-- text -->
<text class="ttl" y="53"><tspan x="129.86" style="letter-spacing:0.39px">CS028C </tspan><tspan x="215.47" style="letter-spacing:0.37px">Serdes </tspan><tspan x="290.54" style="letter-spacing:0.50px">Ring </tspan><tspan x="341.57" style="letter-spacing:0.60px">01 </tspan><tspan x="373.77" style="letter-spacing:0.00px">: </tspan><tspan x="386.48" style="letter-spacing:0.39px">normalised </tspan><tspan x="504.88" style="letter-spacing:0.35px">data, </tspan><tspan x="562.60" style="letter-spacing:0.30px">scale </tspan><tspan x="620.77" style="letter-spacing:0.44px">0.9-1.2</tspan></text>
<text class="t" y="576"><tspan x="274.85" style="letter-spacing:0.09px">Samples </tspan><tspan x="352.00" style="letter-spacing:-0.09px">since </tspan><tspan x="399.98" style="letter-spacing:0.09px">observation </tspan><tspan x="504.05" style="letter-spacing:0.15px">start</tspan></text>
<g class="t">
<text x="94.3" y="557">0</text>
<text x="207.4" y="557">2</text>
<text x="321.0" y="557">4</text>
<text x="431.8" y="557">6</text>
<text x="545.1" y="557">8</text>
<text class="n" x="652.9" y="557">10</text>
<text x="85.3" y="66">0</text>
<text class="n" x="64.2" y="164">100</text>
<text class="n" x="63.0" y="262">200</text>
<text class="n" x="64.0" y="361">300</text>
<text class="n" x="64.0" y="459">400</text>
<text class="n" x="724.1" y="155">220</text>
<text class="n" x="724.1" y="256">240</text>
<text class="n" x="724.1" y="356">260</text>
<text class="n" x="724.1" y="457">280</text>
<text transform="translate(56,301.2) rotate(-90)" text-anchor="middle">Beamlet number</text>
<text transform="translate(773,300.4) rotate(-90)" text-anchor="middle">Frequency (MHz)</text>
</g>
</svg>
</body>
</html>
